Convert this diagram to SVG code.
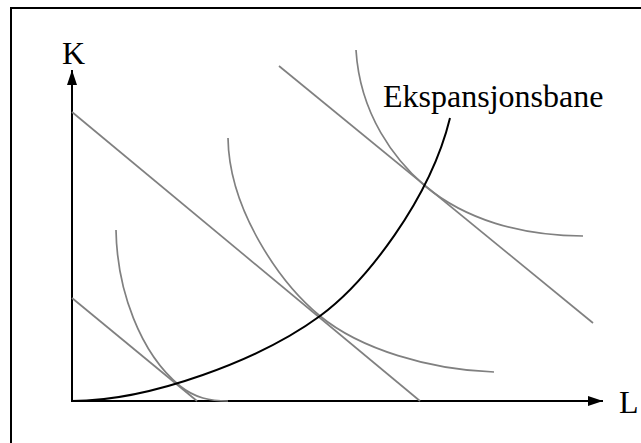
<svg xmlns="http://www.w3.org/2000/svg" width="641" height="443" viewBox="0 0 641 443">
<defs>
<style>
.frame{fill:none;stroke:#000;stroke-width:2}
.axis{fill:none;stroke:#000;stroke-width:2}
.gray{fill:none;stroke:#808080;stroke-width:1.7}
.path{fill:none;stroke:#000;stroke-width:2}
</style>
<marker id="arr" markerWidth="16" markerHeight="10" refX="15" refY="5" orient="auto" markerUnits="userSpaceOnUse">
<path d="M0,0 L15,5 L0,10 z" fill="#000"/>
</marker>
</defs>
<rect width="641" height="443" fill="#fff"/>
<rect class="frame" x="11" y="8" width="640" height="445"/>
<g id="axes">
<line class="axis" x1="72" y1="401" x2="72" y2="70" marker-end="url(#arr)"/>
<line class="axis" x1="71" y1="401" x2="603" y2="401" marker-end="url(#arr)"/>
</g>
<g font-family="Liberation Serif, Times New Roman, DejaVu Serif, serif" font-size="32" fill="#000">
<g id="label-K"><text x="62" y="64">K</text></g>
<g id="label-L"><text x="619" y="413">L</text></g>
</g>
<g id="budget-lines">
<line class="gray" x1="72" y1="298" x2="197" y2="401"/>
<line class="gray" x1="72" y1="112" x2="420" y2="401"/>
<line class="gray" x1="279" y1="66" x2="593" y2="323"/>
</g>
<g id="isoquants">
<path class="gray" d="M116,230 C117,290 140,353 180,386 C195,398 210,401 228,401"/>
<path class="gray" d="M228,138 C229,210 280,283 320,316 C360,349 430,370 494,372"/>
<path class="gray" d="M356,50 C360,115 395,160 425,186 C465,219 520,236 583,236"/>
</g>
<g id="expansion-path">
<path class="path" d="M72,401 C150,401 260,360 320,316 C365,283 430,200 450,118"/>
<text x="383" y="107" font-family="Liberation Serif, Times New Roman, DejaVu Serif, serif" font-size="32" fill="#000">Ekspansjonsbane</text>
</g>
</svg>
